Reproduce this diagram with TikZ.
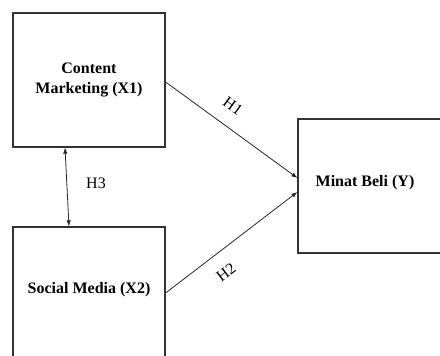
\documentclass[tikz,border=0pt]{standalone}
\usepackage{fontspec}
\setmainfont{Liberation Serif}
\usetikzlibrary{arrows.meta,calc}
\begin{document}
\begin{tikzpicture}[x=1pt,y=-1pt,
  varbox/.style={draw=black!80,line width=1.2pt,inner sep=0pt,align=center,
    font=\fontsize{16}{20}\selectfont\bfseries},
  conn/.style={draw=black!85,line width=0.8pt,-{Latex[length=6pt,width=4.5pt]}},
  hlab/.style={font=\fontsize{16}{18}\selectfont,inner sep=1pt}]
\useasboundingbox (0,0) rectangle (440,356);
\node[varbox,minimum width=152pt,minimum height=134pt] (a) at (89,80) {Content\\Marketing (X1)};
\node[varbox,minimum width=152pt,minimum height=136pt] (b) at (89,295) {};
\node[font=\fontsize{16}{20}\selectfont\bfseries] (bt) at (89,290) {Social Media (X2)};
\node[varbox,minimum width=150pt,minimum height=134pt] (c) at (373,186) {};
\node[font=\fontsize{16}{20}\selectfont\bfseries] (ct) at (365,183) {Minat Beli (Y)};
\draw[conn] (a.east |- 0,82) -- (c.west |- 0,178);
\draw[conn] (b.east |- 0,293) -- (c.west |- 0,192);
\draw[conn,{Latex[length=6pt,width=4.5pt]}-{Latex[length=6pt,width=4.5pt]}] ([xshift=-24pt]a.south) -- ([xshift=-20pt]b.north);
\node[hlab,rotate=-36] (h1) at (233,106) {H1};
\node[hlab,rotate=37] (h2) at (226,272) {H2};
\node[hlab] (h3) at (96,183) {H3};
\end{tikzpicture}
\end{document}
